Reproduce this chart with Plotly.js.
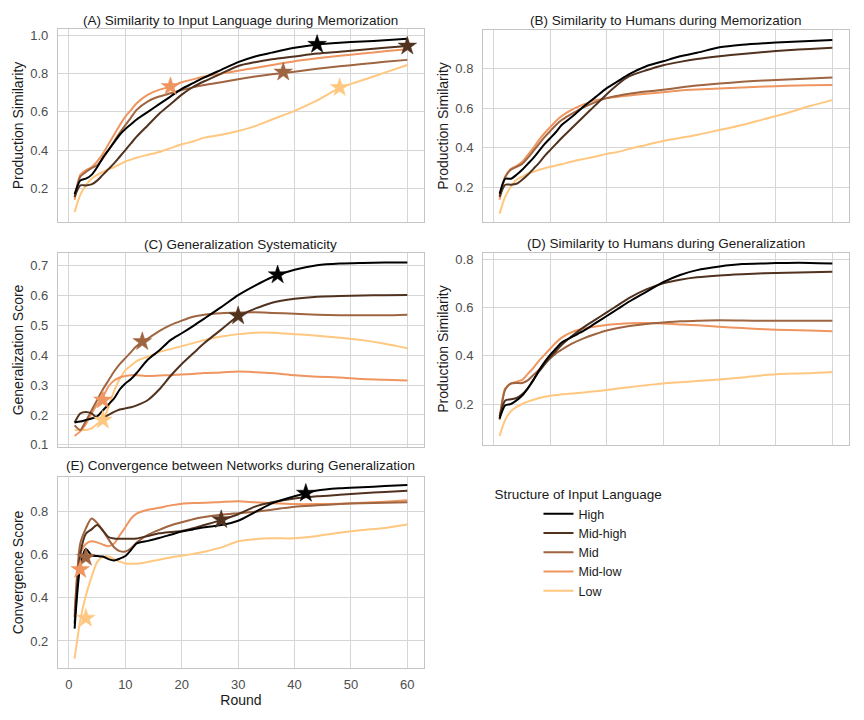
<!DOCTYPE html>
<html>
<head>
<meta charset="utf-8">
<script src="https://cdn.plot.ly/plotly-3.0.1.min.js"></script>
<style>html,body{margin:0;padding:0;background:#fff;}#chart{width:864px;height:720px;}</style>
</head>
<body>
<div id="chart"></div>
<script>
// ---------- data ----------
const ROUNDS = [1,2,3,4,5,6,7,8,9,10,11,12,14,16,18,20,22,24,27,30,33,36,40,44,48,52,56,60];
const SERIES = ['High','Mid-high','Mid','Mid-low','Low'];
const COLORS = ['#000000','#50321f','#9f6440','#ef955f','#ffc77f'];
const PANEL_TITLES = [
  '(A) Similarity to Input Language during Memorization',
  '(B) Similarity to Humans during Memorization',
  '(C) Generalization Systematicity',
  '(D) Similarity to Humans during Generalization',
  '(E) Convergence between Networks during Generalization'
];
const Y_TITLES = ['Production Similarity','Production Similarity','Generalization Score','Production Similarity','Convergence Score'];
const X_TITLE = 'Round';
const LEGEND_TITLE = 'Structure of Input Language';
const X_TICKS = [0,10,20,30,40,50,60];
const Y_TICKS_A = [0.2,0.4,0.6,0.8,1.0];
const Y_TICKS_B = [0.2,0.4,0.6,0.8];
const Y_TICKS_C = [0.1,0.2,0.3,0.4,0.5,0.6,0.7];
const Y_TICKS_D = [0.2,0.4,0.6,0.8];
const Y_TICKS_E = [0.2,0.4,0.6,0.8];

// (A) Similarity to input language during memorization
const A_HIGH     = [.17,.24,.25,.27,.31,.36,.40,.44,.48,.51,.535,.56,.60,.64,.68,.72,.75,.78,.82,.86,.89,.91,.935,.953,.962,.968,.975,.983];
const A_MIDHIGH  = [.155,.215,.215,.22,.24,.27,.30,.33,.365,.40,.435,.47,.53,.59,.64,.69,.73,.76,.80,.84,.86,.875,.89,.905,.915,.925,.935,.944];
const A_MID      = [.155,.26,.285,.305,.32,.355,.40,.445,.49,.53,.57,.61,.655,.68,.697,.714,.728,.74,.755,.77,.785,.797,.81,.825,.838,.85,.862,.872];
const A_MIDLOW   = [.14,.27,.295,.31,.34,.38,.43,.48,.53,.575,.61,.645,.69,.715,.732,.755,.77,.785,.80,.815,.83,.845,.865,.88,.893,.905,.917,.927];
const A_LOW      = [.075,.165,.215,.25,.27,.285,.30,.31,.325,.34,.35,.36,.375,.39,.41,.43,.445,.465,.48,.50,.525,.56,.605,.66,.725,.765,.805,.845];
const A_STAR_ROUND = [44,60,38,18,48];
const A_STAR_VALUE = [.953,.944,.808,.732,.727];

// (B) Similarity to humans during memorization
const B_HIGH     = [.17,.245,.245,.265,.29,.32,.35,.385,.42,.45,.48,.515,.56,.61,.655,.70,.735,.77,.81,.835,.86,.878,.905,.918,.926,.932,.937,.942];
const B_MIDHIGH  = [.155,.215,.215,.22,.24,.265,.295,.325,.36,.39,.42,.45,.505,.56,.615,.67,.72,.76,.79,.815,.832,.846,.86,.872,.882,.89,.897,.903];
const B_MID      = [.155,.255,.29,.305,.32,.35,.385,.42,.455,.485,.515,.54,.575,.605,.63,.65,.662,.672,.683,.692,.703,.713,.723,.732,.739,.744,.749,.753];
const B_MIDLOW   = [.14,.255,.295,.31,.33,.365,.40,.44,.475,.505,.535,.56,.595,.62,.64,.65,.657,.663,.672,.68,.688,.693,.698,.703,.708,.712,.715,.716];
const B_LOW      = [.07,.155,.205,.24,.255,.27,.28,.29,.298,.305,.312,.318,.333,.345,.357,.37,.38,.395,.415,.435,.45,.465,.49,.515,.545,.575,.61,.64];

// (C) Generalization systematicity
const C_HIGH     = [.175,.178,.183,.188,.195,.215,.235,.255,.285,.305,.32,.34,.385,.415,.45,.473,.497,.522,.56,.60,.632,.66,.685,.70,.706,.708,.709,.709];
const C_MIDHIGH  = [.175,.205,.21,.205,.19,.19,.20,.21,.218,.222,.226,.232,.25,.285,.33,.37,.405,.44,.485,.53,.555,.575,.588,.595,.597,.599,.600,.601];
const C_MID      = [.165,.15,.18,.215,.25,.285,.315,.345,.37,.39,.41,.43,.455,.48,.50,.515,.528,.535,.54,.542,.543,.541,.538,.535,.533,.533,.533,.535];
const C_MIDLOW   = [.13,.145,.17,.205,.235,.26,.295,.315,.325,.33,.333,.333,.33,.332,.333,.335,.337,.34,.342,.345,.343,.34,.333,.328,.325,.32,.318,.315];
const C_LOW      = [.15,.15,.15,.155,.17,.185,.225,.28,.32,.35,.365,.38,.395,.41,.42,.43,.44,.45,.462,.47,.475,.475,.47,.465,.458,.45,.438,.423];
const C_STAR_ROUND = [37,30,13,6,6];
const C_STAR_VALUE = [.668,.531,.445,.25,.183];

// (D) Similarity to humans during generalization
const D_HIGH     = [.14,.195,.20,.215,.235,.265,.30,.34,.375,.405,.43,.455,.48,.505,.535,.565,.595,.625,.665,.705,.735,.755,.77,.78,.783,.785,.785,.783];
const D_MIDHIGH  = [.15,.215,.22,.225,.24,.265,.30,.335,.365,.395,.42,.445,.485,.52,.55,.58,.61,.64,.675,.70,.715,.725,.733,.738,.742,.744,.746,.748];
const D_MID      = [.135,.26,.285,.287,.287,.298,.32,.342,.367,.39,.41,.425,.452,.473,.49,.505,.515,.523,.532,.538,.543,.545,.547,.546,.545,.545,.545,.545];
const D_MIDLOW   = [.14,.265,.285,.293,.30,.325,.35,.38,.405,.43,.455,.475,.50,.513,.521,.528,.532,.535,.536,.534,.53,.527,.52,.515,.51,.507,.505,.502];
const D_LOW      = [.068,.135,.17,.188,.20,.21,.218,.225,.23,.234,.237,.24,.244,.248,.253,.258,.264,.27,.278,.285,.29,.295,.302,.31,.32,.325,.328,.333];

// (E) Convergence between networks during generalization
const E_HIGH     = [.257,.545,.625,.595,.592,.59,.578,.572,.58,.592,.62,.65,.662,.675,.69,.705,.715,.725,.735,.755,.795,.835,.868,.895,.905,.91,.915,.92];
const E_MIDHIGH  = [.28,.60,.695,.715,.735,.71,.68,.673,.672,.672,.672,.673,.685,.697,.703,.708,.72,.735,.758,.785,.82,.84,.858,.868,.875,.882,.888,.894];
const E_MID      = [.31,.65,.72,.765,.745,.71,.67,.633,.615,.613,.628,.655,.69,.713,.733,.748,.762,.772,.783,.79,.797,.806,.82,.826,.832,.836,.838,.84];
const E_MIDLOW   = [.34,.60,.648,.66,.655,.645,.637,.65,.688,.725,.765,.788,.806,.815,.826,.834,.837,.838,.842,.845,.84,.836,.832,.832,.834,.838,.843,.85];
const E_LOW      = [.118,.295,.41,.495,.565,.588,.59,.578,.566,.558,.556,.557,.565,.575,.585,.593,.602,.612,.632,.66,.67,.674,.674,.685,.70,.712,.722,.738];
const E_STAR_ROUND = [42,27,3,2,3];
const E_STAR_VALUE = [.882,.76,.586,.53,.305];

// ---------- build ----------
const PANELS = [
  {series:[A_HIGH,A_MIDHIGH,A_MID,A_MIDLOW,A_LOW], stars:[A_STAR_ROUND,A_STAR_VALUE], yt:Y_TICKS_A, yr:[0.025,1.032], xd:[0.0671,0.4907], yd:[0.6921,0.9593], ty:0.9722},
  {series:[B_HIGH,B_MIDHIGH,B_MID,B_MIDLOW,B_LOW], stars:null, yt:Y_TICKS_B, yr:[0.028,0.992], xd:[0.559,0.9826], yd:[0.6917,0.9583], ty:0.9722},
  {series:[C_HIGH,C_MIDHIGH,C_MID,C_MIDLOW,C_LOW], stars:[C_STAR_ROUND,C_STAR_VALUE], yt:Y_TICKS_C, yr:[0.093,0.741], xd:[0.0671,0.4907], yd:[0.3792,0.6486], ty:0.6611},
  {series:[D_HIGH,D_MIDHIGH,D_MID,D_MIDLOW,D_LOW], stars:null, yt:Y_TICKS_D, yr:[0.03,0.826], xd:[0.559,0.9826], yd:[0.3819,0.6486], ty:0.6625},
  {series:[E_HIGH,E_MIDHIGH,E_MID,E_MIDLOW,E_LOW], stars:[E_STAR_ROUND,E_STAR_VALUE], yt:Y_TICKS_E, yr:[0.075,0.957], xd:[0.0671,0.4907], yd:[0.0722,0.3375], ty:0.3528}
];

const FONT = 'Liberation Sans, Arial, sans-serif';
const traces = [];
const layout = {
  width: 864, height: 720,
  margin: {l:0, r:0, t:0, b:0},
  paper_bgcolor: '#ffffff', plot_bgcolor: '#ffffff',
  font: {family: FONT, size: 13, color: '#1a1a1a'},
  showlegend: true,
  legend: {
    x: 0.570, y: 0.331, xanchor: 'left', yanchor: 'top',
    title: {text: LEGEND_TITLE, side: 'top', font: {size: 13.5, color: '#1a1a1a'}},
    font: {size: 12.5, color: '#1a1a1a'},
    indentation: 46,
    bgcolor: 'rgba(0,0,0,0)',
    itemwidth: 30
  },
  annotations: [],
  hovermode: false
};

PANELS.forEach((p, i) => {
  const n = i === 0 ? '' : String(i + 1);
  const xa = 'x' + n, ya = 'y' + n;
  for (let s = SERIES.length - 1; s >= 0; s--) {
    traces.push({
      type: 'scatter', mode: 'lines',
      x: ROUNDS, y: p.series[s],
      xaxis: xa, yaxis: ya,
      name: SERIES[s],
      legendrank: s + 1,
      showlegend: i === 0,
      line: {color: COLORS[s], width: 2, shape: 'spline', smoothing: 0.7}
    });
  }
  if (p.stars) {
    traces.push({
      type: 'scatter', mode: 'markers',
      x: p.stars[0], y: p.stars[1],
      xaxis: xa, yaxis: ya, showlegend: false,
      marker: {symbol: 'star', size: 14, color: COLORS, line: {color: COLORS, width: 0.5}}
    });
  }
  const isE = i === 4;
  layout['xaxis' + n] = {
    domain: p.xd, anchor: ya, range: [-1.95, 62.95],
    tickvals: X_TICKS, showticklabels: isE,
    tickfont: {size: 13, color: '#4d4d4d'},
    ticks: '', ticklabelstandoff: 4,
    showgrid: true, gridcolor: '#d6d6d6', gridwidth: 1,
    zeroline: false,
    showline: true, mirror: true, linecolor: '#c4c4c4', linewidth: 1,
    title: isE ? {text: X_TITLE, font: {size: 14, color: '#1a1a1a'}, standoff: 4} : {text: ''}
  };
  layout['yaxis' + n] = {
    domain: p.yd, anchor: xa, range: p.yr,
    tickvals: p.yt, tickformat: '.1f',
    tickfont: {size: 13, color: '#4d4d4d'},
    ticks: '', ticklabelstandoff: 6,
    showgrid: true, gridcolor: '#d6d6d6', gridwidth: 1,
    zeroline: false,
    showline: true, mirror: true, linecolor: '#c4c4c4', linewidth: 1,
    title: {text: Y_TITLES[i], font: {size: 14, color: '#1a1a1a'}, standoff: 3}
  };
  layout.annotations.push({
    text: PANEL_TITLES[i], xref: 'paper', yref: 'paper',
    x: (p.xd[0] + p.xd[1]) / 2, y: p.ty, xanchor: 'center', yanchor: 'middle',
    showarrow: false, font: {size: 13.5, color: '#1a1a1a'}
  });
});

Plotly.newPlot('chart', traces, layout, {staticPlot: true, displayModeBar: false});
</script>
</body>
</html>
